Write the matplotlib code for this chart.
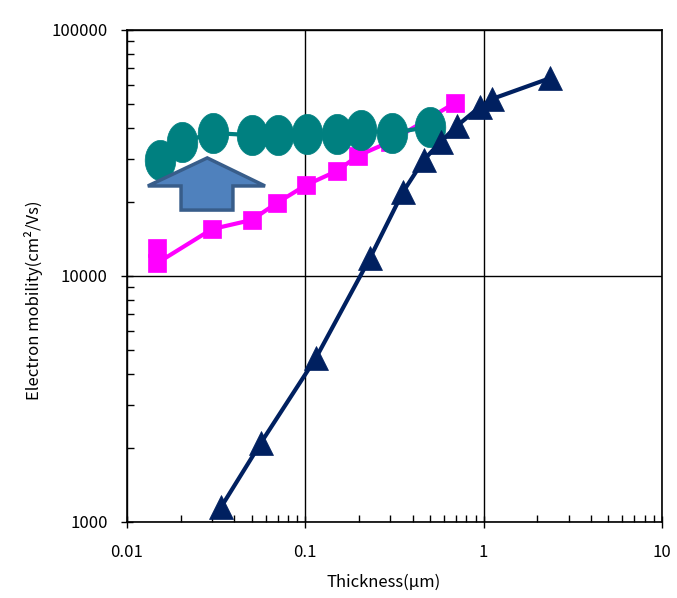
import numpy as np
import matplotlib
matplotlib.use("Agg")
import matplotlib.pyplot as plt
from matplotlib.path import Path
from matplotlib.patches import Polygon

plt.rcParams['font.family'] = ['Noto Sans CJK JP', 'DejaVu Sans']

# film thickness (um) vs electron mobility (cm2/Vs)
tri_x = [0.0337, 0.0564, 0.1146, 0.230, 0.352, 0.461, 0.574, 0.706, 0.95, 1.12, 2.37]
tri_y = [1150, 2100, 4640, 11800, 21900, 29600, 35100, 40700, 48600, 52500, 63800]

sq_x = [0.0148, 0.0148, 0.0299, 0.0501, 0.0692, 0.1007, 0.150, 0.197, 0.297, 0.689]
sq_y = [13000, 11300, 15500, 16900, 19800, 23400, 26700, 30800, 35100, 50500]

circ_x = [0.0153, 0.0203, 0.0303, 0.0501, 0.0702, 0.102, 0.150, 0.205, 0.305, 0.498]
circ_y = [29700, 35100, 38100, 37400, 37400, 37700, 37700, 39200, 38100, 40400]

x_ticks = [0.01, 0.1, 1, 10]
x_labels = ['0.01', '0.1', '1', '10']
y_ticks = [1000, 10000, 100000]
y_labels = ['1000', '10000', '100000']

# tall ellipse marker
t = np.linspace(0, 2 * np.pi, 60)
ellipse = Path(np.column_stack([0.76 * np.cos(t), np.sin(t)]), closed=True)

fig = plt.figure(figsize=(6.77, 5.98), dpi=100)
ax = fig.add_axes([127 / 677, 76 / 598, 535 / 677, 492 / 598])

ax.plot(circ_x, circ_y, color='#008080', lw=3, marker=ellipse, ms=29, mew=0.5, zorder=3)
ax.plot(sq_x, sq_y, color='#ff00ff', lw=3, marker='s', ms=12.5, mew=0.5, zorder=2)
ax.plot(tri_x, tri_y, color='#002060', lw=3, marker='^', ms=17, mew=0.5, zorder=4)

ax.set_xscale('log')
ax.set_yscale('log')
ax.set_xlim(0.01, 10)
ax.set_ylim(1000, 100000)
ax.set_xticks(x_ticks)
ax.set_xticklabels(x_labels)
ax.set_yticks(y_ticks)
ax.set_yticklabels(y_labels)
ax.minorticks_on()
ax.tick_params(which='minor', direction='in', length=5, width=1, labelleft=False, labelbottom=False)
ax.tick_params(which='major', direction='inout', length=8, width=1, labelsize=12)
ax.tick_params(axis='x', which='major', pad=12)
ax.tick_params(axis='y', which='major', pad=10)
ax.grid(True, which='major', color='black', lw=1)
for s in ax.spines.values():
    s.set_linewidth(1.2)

ax.set_xlabel('Thickness(\u03bcm)', fontsize=12)
ax.set_ylabel('Electron mobility(cm\u00b2/Vs)', fontsize=12)
ax.xaxis.set_label_coords(0.479, -0.106)
ax.yaxis.set_label_coords(-0.157, 0.451)

# block arrow pointing up
arrow = Polygon([(0.150, 0.740), (0.258, 0.683), (0.198, 0.683), (0.198, 0.634),
                 (0.101, 0.634), (0.101, 0.683), (0.039, 0.683)],
                closed=True, transform=ax.transAxes, facecolor='#4f81bd',
                edgecolor='#385d8a', lw=2.5, zorder=5)
ax.add_patch(arrow)

fig.savefig('out.png', dpi=100)
